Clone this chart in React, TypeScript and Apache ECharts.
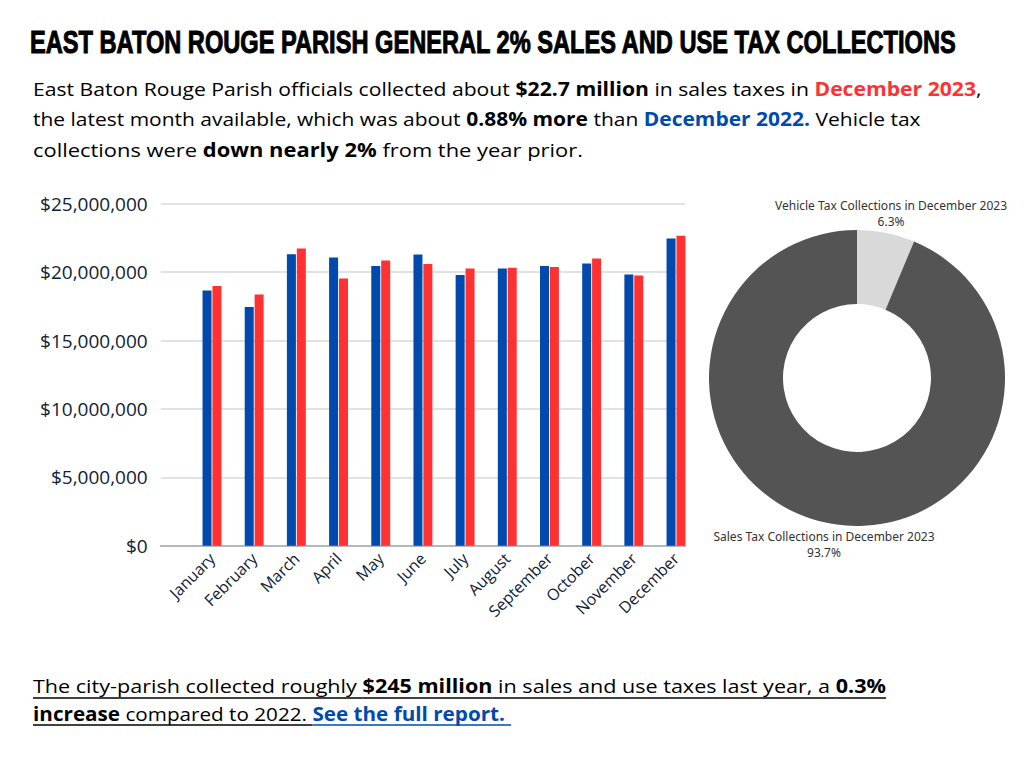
import React, { useEffect, useRef } from "react";
import * as echarts from "echarts";

const months = ["January", "February", "March", "April", "May", "June", "July", "August", "September", "October", "November", "December"];
const sales2022 = [18660000, 17450000, 21300000, 21070000, 20440000, 21290000, 19780000, 20270000, 20440000, 20620000, 19830000, 22460000];
const sales2023 = [18980000, 18370000, 21730000, 19540000, 20850000, 20590000, 20270000, 20320000, 20370000, 21000000, 19760000, 22660000];
const yTicks = { min: 0, max: 25000000, interval: 5000000 };
const pieNames = ["Vehicle Tax Collections in December 2023", "Sales Tax Collections in December 2023"];
const pieValues = [6.3, 93.7];

const titleText = "EAST BATON ROUGE PARISH GENERAL 2% SALES AND USE TAX COLLECTIONS";
type Seg = [string, string];
const introLines: Seg[][] = [
  [["East Baton Rouge Parish officials collected about ", "n"], ["$22.7 million", "b"], [" in sales taxes in ", "n"], ["December 2023", "r"], [",", "n"]],
  [["the latest month available, which was about ", "n"], ["0.88% more", "b"], [" than ", "n"], ["December 2022.", "bl"], [" Vehicle tax", "n"]],
  [["collections were ", "n"], ["down nearly 2%", "b"], [" from the year prior.", "n"]],
];
const footLines: Seg[][] = [
  [["The city-parish collected roughly ", "n"], ["$245 million", "b"], [" in sales and use taxes last year, a ", "n"], ["0.3%", "b"]],
  [["increase", "b"], [" compared to 2022. ", "n"], ["See the full report.", "bl"]],
];

const BODY_FONT = "'Open Sans', 'Noto Sans', sans-serif";
const BLUE = "#004aad";
const RED = "#ff3131";

export default function App() {
  const ref = useRef<HTMLDivElement>(null);
  useEffect(() => {
    if (!ref.current) return;
    const chart = echarts.init(ref.current, null, { renderer: "svg" });
    const cv = document.createElement("canvas").getContext("2d")!;
    const styleOf: Record<string, { w: string; c: string }> = {
      n: { w: "normal", c: "#000" },
      b: { w: "bold", c: "#000" },
      r: { w: "bold", c: RED },
      bl: { w: "bold", c: BLUE },
    };
    const fs = 19;
    const segW = (t: string, k: string) => {
      cv.font = `${styleOf[k].w} ${fs}px ${BODY_FONT}`;
      return cv.measureText(t).width;
    };
    const rich: any = {};
    Object.keys(styleOf).forEach((k) => {
      rich[k] = { fontFamily: BODY_FONT, fontSize: fs, fontWeight: styleOf[k].w, fill: styleOf[k].c };
    });
    const graphics: any[] = [];
    const addLine = (segs: Seg[], x: number, y: number, target: number, underline?: number) => {
      const widths = segs.map((s) => segW(s[0], s[1]));
      const total = widths.reduce((a, b) => a + b, 0);
      const sx = target / total;
      graphics.push({
        type: "text",
        x,
        y,
        scaleX: sx,
        style: {
          text: segs.map((s) => `{${s[1]}|${s[0]}}`).join(""),
          rich,
          verticalAlign: "middle",
          align: "left",
        },
      });
      if (underline !== undefined) {
        let cx = x;
        segs.forEach((s, i) => {
          const w = widths[i] * sx;
          graphics.push({
            type: "line",
            shape: { x1: cx, y1: underline, x2: cx + w + (i === segs.length - 1 && s[1] === "bl" ? 6 : 0), y2: underline },
            style: { stroke: styleOf[s[1]].c, lineWidth: 1.3 },
          });
          cx += w;
        });
      }
    };
    // title
    cv.font = `bold 31px 'Liberation Sans', Arial, sans-serif`;
    const tw = cv.measureText(titleText).width;
    graphics.push({
      type: "text",
      x: 30,
      y: 42,
      scaleX: 927 / tw,
      style: {
        text: titleText,
        fontFamily: "'Liberation Sans', Arial, sans-serif",
        fontWeight: "bold",
        fontSize: 31,
        fill: "#000",
        stroke: "#000",
        lineWidth: 1,
        verticalAlign: "middle",
      },
    });
    addLine(introLines[0], 33, 89, 949);
    addLine(introLines[1], 33, 119, 888);
    addLine(introLines[2], 33, 150, 550);
    addLine(footLines[0], 33, 686, 853, 698);
    addLine(footLines[1], 33, 714, 472, 725);

    const axisColor = "#0f2236";
    const pieLabelPos = [
      { x: 891, y: 213 },
      { x: 824, y: 544 },
    ];
    chart.setOption({
      animation: false,
      grid: [
        { left: 160.7, right: 339, top: 203.7, height: 342 },
        { left: 190.9, right: 326.9, top: 203.7, height: 342 },
      ],
      xAxis: [
        {
          type: "category",
          gridIndex: 0,
          data: months,
          axisTick: { show: false },
          axisLabel: { show: false },
          axisLine: { lineStyle: { color: "#b3b8bd", width: 2 } },
        },
        {
          type: "category",
          gridIndex: 1,
          data: months,
          axisTick: { show: false },
          axisLine: { show: false },
          axisLabel: { rotate: 45, fontSize: 16, color: axisColor, fontFamily: BODY_FONT, margin: 10, interval: 0 },
        },
      ],
      yAxis: [
        {
          type: "value",
          gridIndex: 0,
          ...yTicks,
          axisLine: { show: false },
          axisTick: { show: false },
          splitLine: { lineStyle: { color: "#d6dade", width: 1.5 } },
          axisLabel: {
            fontSize: 19,
            color: axisColor,
            fontFamily: BODY_FONT,
            margin: 13,
            formatter: (v: number) => "$" + v.toLocaleString("en-US"),
          },
        },
        {
          type: "value",
          gridIndex: 1,
          ...yTicks,
          show: false,
          splitLine: { show: false },
        },
      ],
      series: [
        {
          name: "2022",
          type: "bar",
          xAxisIndex: 1,
          yAxisIndex: 1,
          data: sales2022,
          barWidth: 9,
          barGap: "10%",
          itemStyle: { color: BLUE },
        },
        {
          name: "2023",
          type: "bar",
          xAxisIndex: 1,
          yAxisIndex: 1,
          data: sales2023,
          barWidth: 9,
          barGap: "10%",
          itemStyle: { color: RED },
        },
        {
          name: "December 2023",
          type: "pie",
          center: [857, 378],
          radius: [74, 148],
          startAngle: 90,
          clockwise: true,
          percentPrecision: 1,
          data: pieNames.map((n, i) => ({ name: n, value: pieValues[i], itemStyle: { color: i === 0 ? "#d9d9d9" : "#545454" } })),
          label: {
            show: true,
            formatter: "{b}\n{d}%",
            fontSize: 12,
            lineHeight: 16,
            color: "#333",
            fontFamily: "'Noto Sans', sans-serif",
            align: "center",
            overflow: "none",
            width: 320,
          },
          labelLine: { show: false },
          labelLayout: (p: any) => ({
            x: pieLabelPos[p.dataIndex].x,
            y: pieLabelPos[p.dataIndex].y,
            align: "center",
            verticalAlign: "middle",
          }),
          emphasis: { disabled: true },
        },
      ],
      graphic: graphics,
    });
    return () => chart.dispose();
  }, []);
  return <div ref={ref} style={{ position: "absolute", left: 0, top: 0, width: 1024, height: 768, background: "#fff" }} />;
}
